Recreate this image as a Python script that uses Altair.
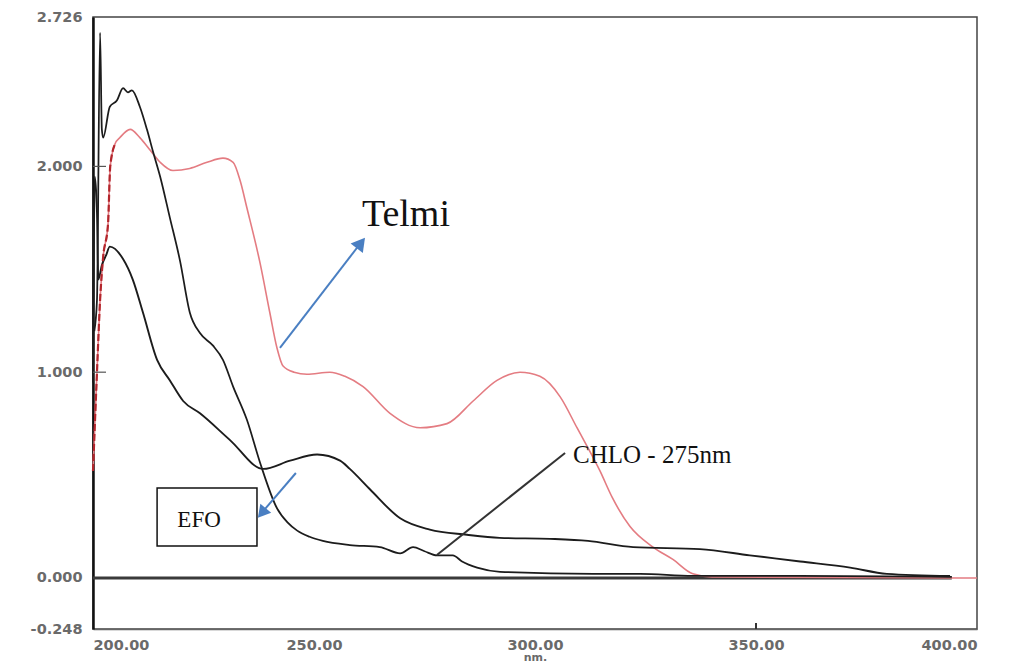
import altair as alt
import pandas as pd

# ---- spectra: wavelength (nm) and absorbance ----
telmi_nm = [200.0, 200.9, 201.6, 202.3, 203.4, 203.9, 205.0, 206.1, 208.4, 210.6,
            212.9, 215.2, 218.1, 221.9, 225.8, 229.4, 231.7, 233.3, 234.8, 237.8,
            240.0, 241.6, 243.0, 245.5, 248.4, 253.6, 257.0, 261.1, 267.2, 274.0,
            280.1, 286.0, 291.4, 296.6, 301.1, 305.7, 309.5, 314.7, 317.5,
            321.5, 326.7, 331.2, 335.7, 340.0, 400.0]
telmi_abs = [0.52, 1.00, 1.35, 1.56, 1.72, 2.00, 2.11, 2.14, 2.18, 2.14,
             2.08, 2.02, 1.98, 1.99, 2.02, 2.04, 2.02, 1.93, 1.80, 1.53,
             1.29, 1.12, 1.03, 1.00, 0.99, 1.00, 0.98, 0.93, 0.80, 0.73,
             0.75, 0.86, 0.96, 1.00, 0.98, 0.88, 0.73, 0.52, 0.39,
             0.25, 0.15, 0.09, 0.02, 0.005, 0.0]

chlo_nm = [200.3, 200.9, 201.6, 202.0, 202.3, 203.8, 205.4, 206.8, 207.9, 208.8,
           210.6, 212.2, 213.6, 215.2, 217.4, 219.7, 221.9, 224.2, 227.1, 229.4,
           231.7, 234.8, 237.8, 241.6, 244.0, 246.2, 249.0, 252.0, 258.1, 264.9,
           269.5, 272.4, 275.0, 277.8, 281.4, 283.5, 286.9, 292.1, 313.1, 323.8,
           335.7, 360.0, 394.3]
chlo_abs = [1.20, 1.35, 2.65, 2.18, 2.14, 2.29, 2.32, 2.38, 2.36, 2.37,
            2.29, 2.18, 2.07, 1.95, 1.75, 1.54, 1.29, 1.19, 1.13, 1.06,
            0.93, 0.77, 0.56, 0.34, 0.27, 0.23, 0.20, 0.18, 0.16, 0.15,
            0.12, 0.15, 0.13, 0.11, 0.11, 0.08, 0.05, 0.03, 0.02, 0.02,
            0.01, 0.01, 0.005]

efo_nm = [200.0, 200.4, 200.9, 201.2, 202.0, 203.0, 203.8, 206.8, 209.0, 211.3,
          214.5, 217.4, 220.4, 224.2, 231.0, 238.5, 244.6, 250.7, 255.9, 258.1,
          262.7, 269.5, 276.2, 284.6, 292.0, 303.4, 312.0, 322.2, 337.3, 348.6,
          360.0, 371.3, 379.6, 393.9]
efo_abs = [0.95, 1.95, 1.78, 1.45, 1.52, 1.57, 1.61, 1.55, 1.45, 1.29,
           1.06, 0.96, 0.86, 0.80, 0.67, 0.53, 0.57, 0.60, 0.57, 0.53,
           0.43, 0.29, 0.235, 0.21, 0.195, 0.19, 0.18, 0.15, 0.14, 0.11,
           0.08, 0.05, 0.02, 0.01]

blank_nm = [200.0, 394.3]
blank_abs = [0.0, 0.0]

x_ticks = [200, 250, 300, 350, 400]
y_ticks = [-0.248, 0.0, 1.0, 2.0, 2.726]
y_inner_ticks = [1.0, 2.0]
x_inner_ticks = [350]

series_names = ["Telmi", "CHLO", "EFO"]
series_colors = ["#e47c82", "#1c1c1c", "#1c1c1c"]
series_widths = [1.6, 1.9, 1.9]

rows = []
for name, xs, ys in [("Telmi", telmi_nm, telmi_abs),
                     ("CHLO", chlo_nm, chlo_abs),
                     ("EFO", efo_nm, efo_abs)]:
    for i, (a, b) in enumerate(zip(xs, ys)):
        rows.append({"series": name, "nm": a, "abs": b, "i": i})
spectra = pd.DataFrame(rows)
blank = pd.DataFrame({"nm": blank_nm, "abs": blank_abs})
# the noisy start of the Telmi trace, drawn darker
telmi_start = pd.DataFrame({"nm": telmi_nm[:7], "abs": telmi_abs[:7]})

x_scale = alt.Scale(domain=[200, 400], nice=False, zero=False)
y_scale = alt.Scale(domain=[-0.248, 2.726], nice=False, zero=False)

label_font = "DejaVu Sans"
label_color = "#6a6a6a"

x_axis = alt.Axis(values=x_ticks, format=".2f", title="nm.", grid=False,
                  ticks=False, tickSize=0, labelPadding=9, labelFont=label_font,
                  labelFontSize=14.5, labelFontWeight="bold", labelColor=label_color,
                  titleFont=label_font, titleFontSize=11, titleFontWeight="bold",
                  titleColor=label_color, titlePadding=0,
                  domainColor="#666666", domainWidth=1.5)
y_axis = alt.Axis(values=y_ticks, title=None, grid=False, ticks=False, tickSize=0,
                  labelExpr="datum.value < 0 ? '-' + format(-datum.value, '.3f') : format(datum.value, '.3f')",
                  labelPadding=11, labelFont=label_font, labelFontSize=14.5,
                  labelFontWeight="bold", labelColor=label_color,
                  domainColor="#111111", domainWidth=2.5)

X = alt.X("nm:Q", scale=x_scale, axis=x_axis)
Y = alt.Y("abs:Q", scale=y_scale, axis=y_axis)

blank_line = alt.Chart(blank).mark_line(color="#3a3a3a", strokeWidth=3).encode(x=X, y=Y)

lines = alt.Chart(spectra).mark_line(interpolate="monotone").encode(
    x=X, y=Y,
    color=alt.Color("series:N", scale=alt.Scale(domain=series_names, range=series_colors), legend=None),
    strokeWidth=alt.StrokeWidth("series:N", scale=alt.Scale(domain=series_names, range=series_widths), legend=None),
    detail="series:N",
    order="i:Q",
)

start_line = alt.Chart(telmi_start).mark_line(
    interpolate="monotone", color="#b3262c", strokeWidth=2.2, strokeDash=[7, 3]
).encode(x=X, y=Y)

# short inward ticks
y_tick_marks = alt.Chart(pd.DataFrame({"abs": y_inner_ticks})).mark_rule(
    color="#555555", strokeWidth=1.2).encode(y=Y, x=alt.value(0), x2=alt.value(13))
x_tick_marks = alt.Chart(pd.DataFrame({"nm": x_inner_ticks})).mark_rule(
    color="#333333", strokeWidth=2).encode(x=X, y=alt.value(606), y2=alt.value(612))

# annotations
blue = "#4a7fc2"
telmi_arrow = alt.Chart(pd.DataFrame({"nm": [242.3], "abs": [1.118], "nm2": [260.0], "abs2": [1.612]})
                        ).mark_rule(color=blue, strokeWidth=2).encode(
    x=X, y=Y, x2="nm2:Q", y2="abs2:Q")
telmi_head = alt.Chart(pd.DataFrame({"nm": [260.6], "abs": [1.628]})).mark_point(
    shape="triangle-up", filled=True, size=240, angle=38, color=blue, opacity=1).encode(x=X, y=Y)
telmi_text = alt.Chart(pd.DataFrame({"nm": [270.8], "abs": [1.71], "t": ["Telmi"]})).mark_text(
    font="Liberation Serif", fontSize=38, align="center", baseline="alphabetic", color="#111111"
).encode(x=X, y=Y, text="t:N")

chlo_leader = alt.Chart(pd.DataFrame({"nm": [277.8], "abs": [0.112], "nm2": [306.8], "abs2": [0.607]})
                        ).mark_rule(color="#333333", strokeWidth=2).encode(
    x=X, y=Y, x2="nm2:Q", y2="abs2:Q")
chlo_text = alt.Chart(pd.DataFrame({"nm": [308.6], "abs": [0.559], "t": ["CHLO - 275nm"]})).mark_text(
    font="Liberation Serif", fontSize=25, align="left", baseline="alphabetic", color="#111111"
).encode(x=X, y=Y, text="t:N")

efo_box = alt.Chart(pd.DataFrame({"nm": [214.5], "nm2": [237.1], "abs": [0.437], "abs2": [0.155]})
                    ).mark_rect(fill="white", stroke="#111111", strokeWidth=1.5).encode(
    x=X, x2="nm2:Q", y=Y, y2="abs2:Q")
efo_text = alt.Chart(pd.DataFrame({"nm": [224.0], "abs": [0.248], "t": ["EFO"]})).mark_text(
    font="Liberation Serif", fontSize=23, align="center", baseline="alphabetic", color="#111111"
).encode(x=X, y=Y, text="t:N")
efo_arrow = alt.Chart(pd.DataFrame({"nm": [245.9], "abs": [0.510], "nm2": [238.7], "abs2": [0.330]})
                      ).mark_rule(color=blue, strokeWidth=2).encode(
    x=X, y=Y, x2="nm2:Q", y2="abs2:Q")
efo_head = alt.Chart(pd.DataFrame({"nm": [238.2], "abs": [0.316]})).mark_point(
    shape="triangle-up", filled=True, size=200, angle=220, color=blue, opacity=1).encode(x=X, y=Y)

chart = alt.layer(
    blank_line, lines, start_line, y_tick_marks, x_tick_marks,
    telmi_arrow, telmi_head, telmi_text,
    chlo_leader, chlo_text,
    efo_arrow, efo_head, efo_box, efo_text,
).properties(
    width=884, height=612,
    padding={"left": 93, "top": 17, "right": 38, "bottom": 38},
    autosize=alt.AutoSizeParams(type="none"),
    background="white",
).configure_view(stroke="#444444", strokeWidth=1.5)

chart.save("out.html", embed_options={"renderer": "svg", "actions": False})
